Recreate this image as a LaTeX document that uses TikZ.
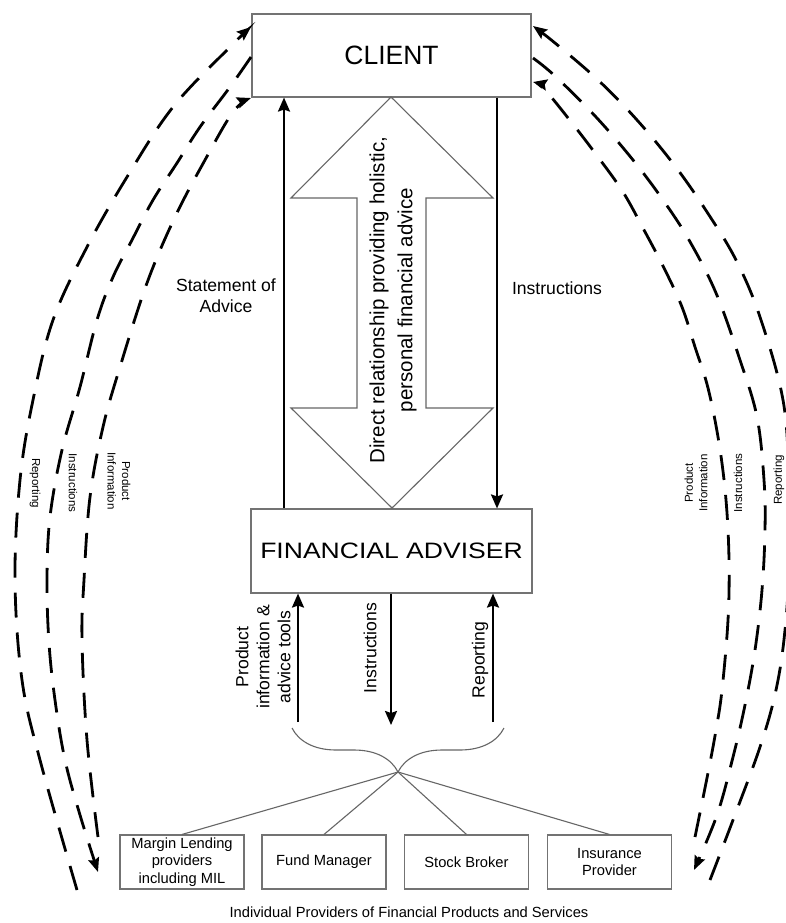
\documentclass[tikz,border=0pt]{standalone}
\usepackage{fontspec}
\setmainfont{Liberation Sans}
\usetikzlibrary{arrows.meta,decorations.pathreplacing}
\begin{document}
\begin{tikzpicture}[x=1pt,y=-1pt,
  box/.style={draw=black!55, line width=1.1pt, fill=white, inner sep=0pt, align=center},
  outline/.style={draw=black!60, line width=1.1pt},
  solidarr/.style={line width=2.2pt, -{Stealth[length=14pt,width=12pt,inset=2pt]}},
  dashline/.style={line width=2.8pt, dash pattern=on 25pt off 15pt, line cap=butt},
  dtip/.style={-{Stealth[length=14pt,width=11pt,inset=2pt]}},
  bigfont/.style={font=\fontsize{17.6}{21}\selectfont},
  smallfont/.style={font=\fontsize{11.5}{14.5}\selectfont},
  provfont/.style={font=\fontsize{14.7}{17.5}\selectfont},
  lbl/.style={inner sep=0pt, align=center}]
\useasboundingbox (0,0) rectangle (786,923);
\fill[white] (0,0) rectangle (786,923);

% main boxes
\node[box, minimum width=279pt, minimum height=83pt, font=\fontsize{26.5}{30}\selectfont] (client) at (391.5,55.5) {CLIENT};
\node[box, minimum width=281pt, minimum height=84pt, font=\fontsize{22.3}{26}\selectfont] (fa) at (391.5,551) {\scalebox{1.19}[1]{FINANCIAL ADVISER}};

% double arrow
\draw[outline] (391,97) -- (493,198) -- (426,198) -- (426,408) -- (493,408) -- (392,508)
  -- (291,408) -- (357,408) -- (357,198) -- (291,198) -- cycle;
\node[lbl, rotate=90, font=\fontsize{20.5}{28}\selectfont] (rel) at (393,300)
  {Direct relationship providing holistic,\\personal financial advice};

% client <-> adviser arrows
\coordinate (xs) at (284,0);
\coordinate (xi) at (497,0);
\draw[solidarr] (fa.north -| xs) -- (client.south -| xs);
\draw[solidarr] (client.south -| xi) -- (fa.north -| xi);
\node[lbl, bigfont] (soa) at (226,296) {Statement of\\Advice};
\node[lbl, bigfont] (ins1) at (557,288) {Instructions};

% adviser <-> providers arrows
\coordinate (l1) at (298,722);
\coordinate (l2) at (391,725);
\coordinate (l3) at (493,722);
\draw[solidarr] (l1) -- (l1 |- fa.south);
\draw[solidarr] (l2 |- fa.south) -- (l2);
\draw[solidarr] (l3) -- (l3 |- fa.south);
\node[lbl, bigfont, rotate=90] (pit) at (263,657) {Product\\information \&\\advice tools};
\node[lbl, bigfont, rotate=90] (ins2) at (370,648) {Instructions};
\node[lbl, bigfont, rotate=90] (rep2) at (480,660) {Reporting};

% brace and fan
\draw[outline, decorate, decoration={brace, amplitude=44pt, mirror}] (292,728) -- (504,728);
\coordinate (apex) at (398,772);

\node[box, provfont, minimum width=124pt, minimum height=54pt] (b1) at (182,862) {Margin Lending\\providers\\including MIL};
\node[box, provfont, minimum width=124pt, minimum height=54pt] (b2) at (324,862) {Fund Manager};
\node[box, provfont, minimum width=124pt, minimum height=54pt] (b3) at (466.5,862) {Stock Broker};
\node[box, provfont, minimum width=124pt, minimum height=54pt] (b4) at (609.5,862) {Insurance\\Provider};
\foreach \b in {b1,b2,b3,b4} \draw[outline] (apex) -- (\b.north);
\node[lbl, provfont] (cap) at (409,912) {Individual Providers of Financial Products and Services};

% left dashed arcs
\draw[dashline, dtip] plot[smooth, tension=0.6] coordinates {(77,890) (40,760) (22,680) (15,580) (20,480) (33,400) (53,320) (87,247) (127,177) (173,107) (230,47) (251,27)};
\draw[dashline, dtip] plot[smooth, tension=0.6] coordinates {(251,57) (230,87) (200,127) (177,163) (153,200) (132,240) (113,277) (97,320) (80,387) (62,450) (50,517) (47,580) (49,643) (55,700) (65,760) (80,815) (98,872)};
\draw[dashline, dtip] plot[smooth, tension=0.6] coordinates {(98,837) (87,740) (82,640) (84,580) (90,497) (103,427) (120,367) (147,283) (175,217) (205,160) (233,112) (251,98)};

% right dashed arcs
\draw[dashline, dtip] plot[smooth, tension=0.6] coordinates {(710,880) (733,820) (760,747) (776,690) (785,630) (790,550) (789,480) (783,400) (760,317) (736,260) (707,212) (675,166) (637,120) (598,80) (555,43) (533,26)};
\draw[dashline, dtip] plot[smooth, tension=0.6] coordinates {(533,58) (555,76) (596,117) (633,160) (663,200) (689,240) (716,293) (740,360) (757,417) (764,480) (765,530) (762,590) (755,650) (745,705) (733,757) (717,815) (694,870)};
\draw[dashline, dtip] plot[smooth, tension=0.6] coordinates {(695,837) (708,773) (716,730) (722,690) (728,620) (729,560) (726,500) (719,443) (708,388) (695,347) (682,307) (664,268) (644,230) (623,192) (598,157) (572,123) (545,90) (533,82)};

% arc labels
\node[lbl, smallfont, rotate=-90] (lrep) at (35,483) {Reporting};
\node[lbl, smallfont, rotate=-90] (lins) at (73,483) {Instructions};
\node[lbl, smallfont, rotate=-90] (lpi) at (119,481) {Product\\Information};
\node[lbl, smallfont, rotate=90] (rpi) at (696,483) {Product\\Information};
\node[lbl, smallfont, rotate=90] (rins) at (738,483) {Instructions};
\node[lbl, smallfont, rotate=90] (rrep) at (779,480) {Reporting};
\end{tikzpicture}
\end{document}
